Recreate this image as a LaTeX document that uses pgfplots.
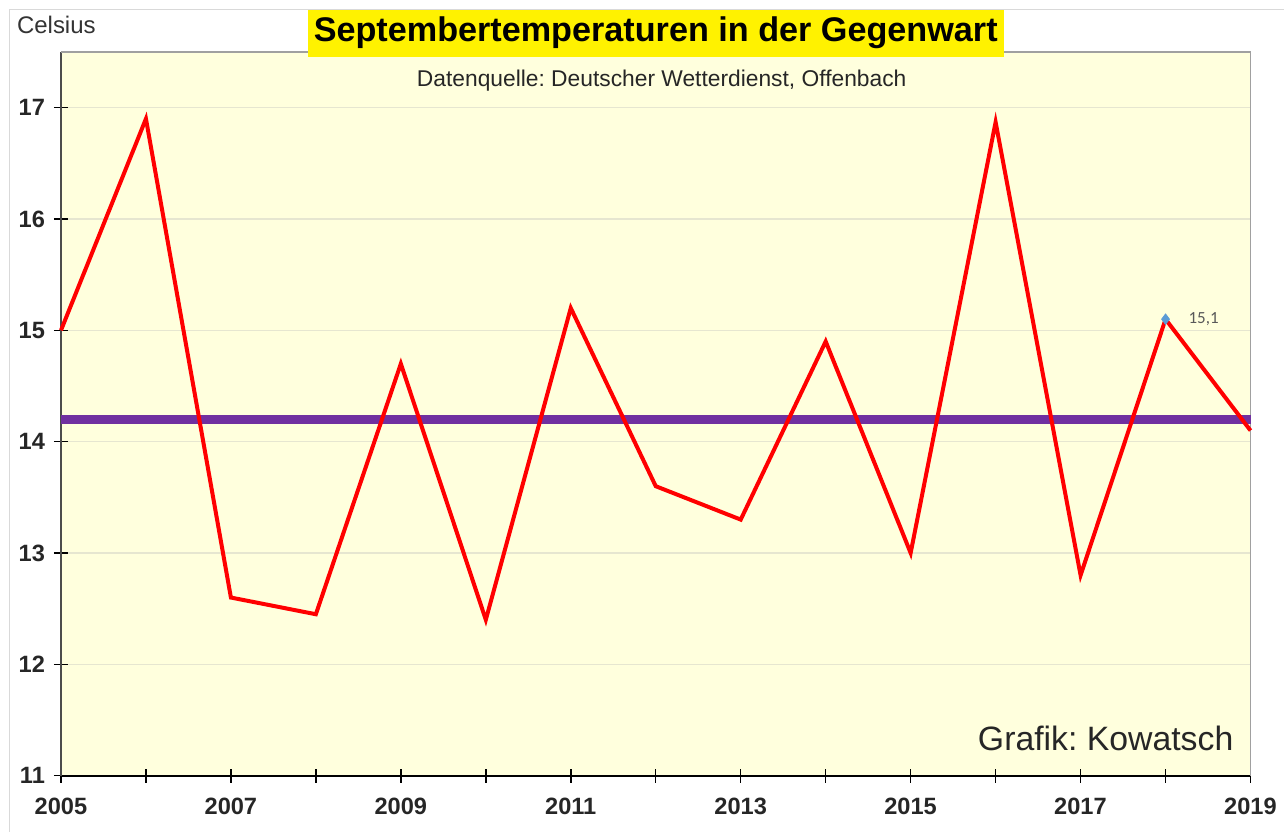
\documentclass[border=0pt]{standalone}
\usepackage{pgfplots}
\pgfplotsset{compat=1.18}
\usepackage{fontspec}
\setmainfont{Liberation Sans}
\newfontfamily\carlito{Carlito}
\frenchspacing
\definecolor{bgyellow}{HTML}{FFFFDD}
\definecolor{lineRed}{HTML}{FF0000}
\definecolor{meanPurple}{HTML}{7030A0}
\definecolor{gridgray}{HTML}{E6E6D0}
\definecolor{framegray}{HTML}{A0A0A0}
\definecolor{markblue}{HTML}{5B9BD5}
\begin{document}
\begin{tikzpicture}
\begin{axis}[
  scale only axis,
  width=595pt, height=362pt,
  xmin=2005, xmax=2019,
  ymin=11, ymax=17.5,
  xtick={2005,...,2019},
  xticklabels={2005,,2007,,2009,,2011,,2013,,2015,,2017,,2019},
  ytick={11,12,...,17},
  tick align=center,
  major tick length=7pt,
  tick style={black, line width=0.8pt},
  ymajorgrids,
  grid style={gridgray, line width=0.6pt},
  axis background/.style={fill=bgyellow},
  axis line style={framegray, line width=0.6pt},
  axis x line*=bottom, axis y line*=left,
  separate axis lines,
  x axis line style={black, line width=0.9pt, -},
  y axis line style={black!70, line width=0.9pt, -},
  ticklabel style={font=\fontsize{11.8}{13}\selectfont\bfseries, text=black!85},
  /pgf/number format/assume math mode=true,
  xticklabel style={yshift=-4pt},
  yticklabel style={xshift=-1pt},
  clip=false,
]
% top and right frame
\draw[framegray, line width=0.6pt] (rel axis cs:0,1) -- (rel axis cs:1,1) -- (rel axis cs:1,0);
\addplot[meanPurple, line width=4.8pt] coordinates {(2005,14.2) (2019,14.2)};
\addplot[lineRed, line width=2pt, line join=miter, mark=none] coordinates {
(2005,15.0) (2006,16.9) (2007,12.6) (2008,12.45) (2009,14.7) (2010,12.4)
(2011,15.2) (2012,13.6) (2013,13.3) (2014,14.9) (2015,13.0) (2016,16.87)
(2017,12.8) (2018,15.1) (2019,14.1)};
\addplot[only marks, mark=diamond*, mark size=2.6pt, markblue] coordinates {(2018,15.1)}
  node[anchor=west, xshift=8pt, font=\carlito\fontsize{8.5}{10}\selectfont, text=black!65] {15,1};
\node[fill=yellow, inner xsep=3pt, inner ysep=4pt, font=\fontsize{17.1}{20}\selectfont\bfseries]
  at (rel axis cs:0.5,1.026) {Septembertemperaturen in der Gegenwart};
\node[font=\fontsize{11.4}{13}\selectfont, text=black!85] at (rel axis cs:0.505,0.961) {Datenquelle: Deutscher Wetterdienst, Offenbach};
\node[anchor=west, font=\fontsize{12}{14}\selectfont, text=black!80] at (rel axis cs:-0.0429,1.037) {Celsius};
\node[anchor=base east, font=\fontsize{16.9}{20}\selectfont, text=black!85] at (rel axis cs:0.9915,0.035) {Grafik: Kowatsch};
\end{axis}
\pgfresetboundingbox
\draw[black!15, line width=0.5pt] (-25.5pt,-28pt) -- (-25.5pt,383pt) -- (611.5pt,383pt);
\path[use as bounding box] (-30.5pt,-28pt) rectangle (611.5pt,388pt);
\end{tikzpicture}
\end{document}
